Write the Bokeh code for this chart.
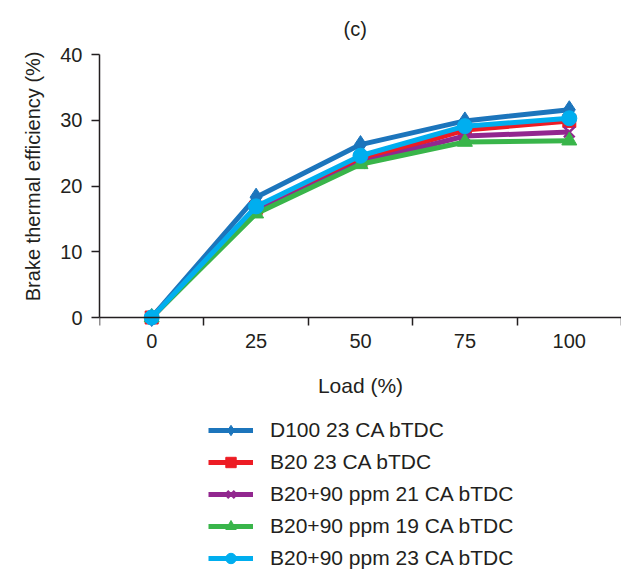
from bokeh.plotting import figure
from bokeh.models import Range1d, FixedTicker, Legend, LegendItem, Title
from bokeh.embed import file_html
from bokeh.resources import INLINE

# ---- data ----
loads = ["0", "25", "50", "75", "100"]
d100_23 = [0, 18.3, 26.3, 29.9, 31.6]
b20_23 = [0, 16.7, 23.9, 28.5, 29.9]
b20_90_21 = [0, 16.1, 23.5, 27.6, 28.2]
b20_90_19 = [0, 15.8, 23.3, 26.7, 26.9]
b20_90_23 = [0, 16.9, 24.6, 29.1, 30.3]
y_ticks = [0, 10, 20, 30, 40]

series = [
    ("D100 23 CA bTDC", d100_23, "#1c75bc", "diamond", 18),
    ("B20 23 CA bTDC", b20_23, "#ed1c24", "square", 13),
    ("B20+90 ppm 21 CA bTDC", b20_90_21, "#92278f", "x", 15),
    ("B20+90 ppm 19 CA bTDC", b20_90_19, "#39b54a", "triangle", 15),
    ("B20+90 ppm 23 CA bTDC", b20_90_23, "#00aeef", "circle", 15),
]

FONT = "Liberation Sans"
TXT = "#231f20"

xpos = [i + 0.5 for i in range(len(loads))]

FRAME_H = 516
PX_PER_UNIT = 6.575
y_lo = y_ticks[-1] - FRAME_H / PX_PER_UNIT

p = figure(frame_width=522, frame_height=FRAME_H, output_backend="svg", toolbar_location=None,
           x_range=Range1d(0, len(loads)), y_range=Range1d(y_lo, y_ticks[-1]),
           min_border_left=99, min_border_right=0, min_border_top=54, min_border_bottom=0)
p.title.text = "(c)"
p.title.align = "left"
p.title.offset = 244
p.title.standoff = 30
p.title.text_font = FONT
p.title.text_font_size = "20px"
p.title.text_font_style = "normal"
p.title.text_color = TXT

p.xgrid.visible = False
p.ygrid.visible = False
p.outline_line_color = None

# y axis
ya = p.yaxis[0]
ya.bounds = (y_ticks[0], y_ticks[-1])
ya.ticker = FixedTicker(ticks=y_ticks, minor_ticks=[])
ya.major_tick_out = 8
ya.major_tick_in = 0
ya.minor_tick_out = 0
ya.axis_line_width = 1.5
ya.axis_line_color = TXT
ya.major_tick_line_color = TXT
ya.major_tick_line_width = 1.5
ya.major_label_text_font = FONT
ya.major_label_text_font_size = "20px"
ya.major_label_text_color = TXT
ya.major_label_standoff = 9

# y axis title, placed beside the 0-40 span (top-aligned)
p.add_layout(Title(text="Brake thermal efficiency (%)", align="right", offset=-3,
                   standoff=28, text_font=FONT, text_font_size="20px",
                   text_font_style="normal", text_color=TXT), "left")

# x axis sits at y = 0
xa = p.xaxis[0]
xa.fixed_location = 0
xa.ticker = FixedTicker(ticks=xpos, minor_ticks=list(range(len(loads) + 1)))
xa.major_label_overrides = {x: lab for x, lab in zip(xpos, loads)}
xa.major_tick_out = 0
xa.major_tick_in = 0
xa.minor_tick_out = 8
xa.minor_tick_in = 0
xa.minor_tick_line_color = TXT
xa.minor_tick_line_width = 1.5
xa.axis_line_width = 1.5
xa.axis_line_color = TXT
xa.major_label_text_font = FONT
xa.major_label_text_font_size = "20px"
xa.major_label_text_color = TXT
xa.major_label_standoff = 8
xa.axis_label = "Load (%)"
xa.axis_label_text_font = FONT
xa.axis_label_text_font_size = "21px"
xa.axis_label_text_font_style = "normal"
xa.axis_label_text_color = TXT
xa.axis_label_standoff = 23

items = []
for name, vals, col, mk, sz in series:
    r1 = p.line(xpos, vals, line_color=col, line_width=5)
    r2 = p.scatter(xpos, vals, marker=mk, size=sz, fill_color=col,
                   line_color=col, line_width=2.5 if mk == "x" else 1)
    items.append(LegendItem(label=name, renderers=[r1, r2]))

legend = Legend(items=items, location=(109, -1), orientation="vertical",
                glyph_width=45, glyph_height=26, spacing=6, label_standoff=17,
                label_text_font=FONT, label_text_font_size="21px",
                label_text_color=TXT, border_line_color=None,
                background_fill_alpha=0, padding=0, margin=0)
p.add_layout(legend, "center")

open("out.html", "w").write(file_html(p, INLINE))
